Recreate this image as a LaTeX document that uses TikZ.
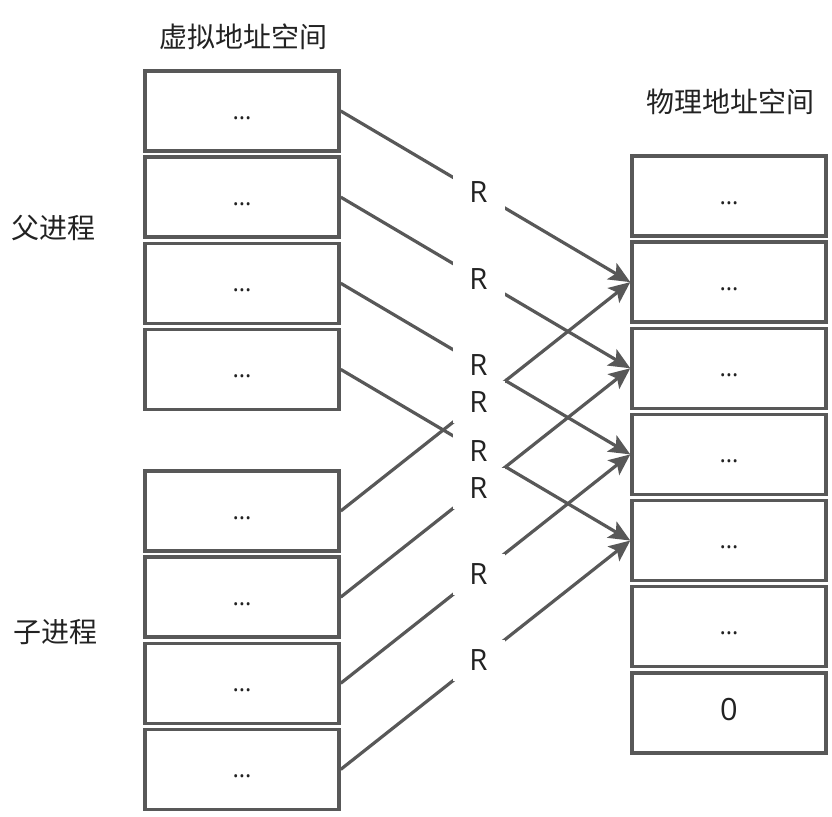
\documentclass[tikz,border=0pt]{standalone}
\usepackage{fontspec}
\setmainfont{Open Sans}
\newfontfamily\cjk{Noto Sans CJK SC}
\usetikzlibrary{arrows.meta, positioning}
\definecolor{linegray}{HTML}{585858}
\definecolor{textgray}{HTML}{222222}

\begin{document}
\begin{tikzpicture}[
    x=0.75pt, y=-0.75pt,
    node distance=2pt,
    every node/.style={text=textgray},
    cell/.style={draw=linegray, line width=2.6pt, minimum width=145.5pt, minimum height=60pt, inner sep=0pt, text height=12pt, text depth=0pt, font=\fontsize{18}{18}\selectfont},
    title/.style={font=\cjk\fontsize{21}{21}\selectfont, inner sep=0pt},
    map/.style={-{Stealth[length=16pt,width=14pt,inset=3.5pt]}, line width=2.4pt, draw=linegray},
    tag/.style={fill=white, minimum width=39pt, minimum height=31pt, inner sep=0pt, font=\fontsize{22}{22}\selectfont}
]
    \useasboundingbox (0,0) rectangle (832,817);

    % virtual address space: parent
    \node[cell] (vp1) at (242,111) {…};
    \node[cell, below=of vp1] (vp2) {…};
    \node[cell, below=of vp2] (vp3) {…};
    \node[cell, below=of vp3] (vp4) {…};

    % virtual address space: child
    \node[cell] (vc1) at (242,511) {…};
    \node[cell, below=of vc1] (vc2) {…};
    \node[cell, below=of vc2] (vc3) {…};
    \node[cell, below=of vc3] (vc4) {…};

    % physical address space
    \node[cell] (pa1) at (729,196) {…};
    \node[cell, below=of pa1] (pa2) {…};
    \node[cell, below=of pa2] (pa3) {…};
    \node[cell, below=of pa3] (pa4) {…};
    \node[cell, below=of pa4] (pa5) {…};
    \node[cell, below=of pa5] (pa6) {…};
    \node[cell, below=of pa6, font=\fontsize{23}{23}\selectfont] (pa7) {0};

    \node[title] (vtitle) at (243,37) {虚拟地址空间};
    \node[title] (ptitle) at (730,102) {物理地址空间};
    \node[title] (parent) at (54,228) {父进程};
    \node[title] (child) at (55,632) {子进程};

    \draw[map] (vp1.east) -- node[tag, pos=0.476] (r1) {R} (pa2.west);
    \draw[map] (vp2.east) -- node[tag, pos=0.476] (r2) {R} (pa3.west);
    \draw[map] (vp3.east) -- node[tag, pos=0.476] (r3) {R} (pa4.west);
    \draw[map] (vp4.east) -- node[tag, pos=0.476] (r4) {R} (pa5.west);

    \draw[map] (vc1.east) -- node[tag, pos=0.476] (r5) {R} (pa2.west);
    \draw[map] (vc2.east) -- node[tag, pos=0.476] (r6) {R} (pa3.west);
    \draw[map] (vc3.east) -- node[tag, pos=0.476] (r7) {R} (pa4.west);
    \draw[map] (vc4.east) -- node[tag, pos=0.476] (r8) {R} (pa5.west);
\end{tikzpicture}
\end{document}
